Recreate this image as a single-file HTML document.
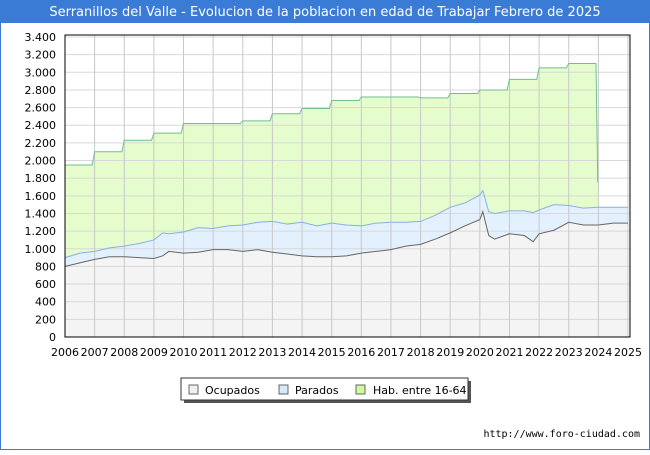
<!DOCTYPE html>
<html><head><meta charset="utf-8"><style>
body{margin:0;width:650px;height:450px;overflow:hidden;font-family:"Liberation Sans","DejaVu Sans",sans-serif;background:#fff}
</style></head><body>
<svg id="chart" width="650" height="450" xmlns="http://www.w3.org/2000/svg">
<rect x="0" y="0" width="650" height="450" fill="#fff" stroke="#3a7bd5" stroke-width="2"/>
<rect x="0" y="0" width="650" height="23" fill="#3a7bd5"/>
<text x="325" y="16" font-size="13" fill="#fff" text-anchor="middle" font-family="DejaVu Sans, sans-serif">Serranillos del Valle - Evolucion de la poblacion en edad de Trabajar Febrero de 2025</text>
<g id="plot"></g>
<g>
<rect x="184" y="381" width="287" height="22" fill="#555"/>
<rect x="181" y="378" width="287" height="22" fill="#fff" stroke="#333"/>
<rect x="189" y="385" width="9" height="9" fill="#f0f0f0" stroke="#666"/>
<text x="205" y="394" font-size="11" font-family="DejaVu Sans, sans-serif">Ocupados</text>
<rect x="279" y="385" width="9" height="9" fill="#d6e9ff" stroke="#666"/>
<text x="295" y="394" font-size="11" font-family="DejaVu Sans, sans-serif">Parados</text>
<rect x="356" y="385" width="9" height="9" fill="#ccff99" stroke="#666"/>
<text x="373" y="394" font-size="11" font-family="DejaVu Sans, sans-serif">Hab. entre 16-64</text>
</g>
<text x="640" y="437" font-size="10" text-anchor="end" font-family="DejaVu Sans Mono, monospace">http://www.foro-ciudad.com</text>
</svg>
<script>
const years=[2006,2007,2008,2009,2010,2011,2012,2013,2014,2015,2016,2017,2018,2019,2020,2021,2022,2023,2024,2025];
const yTicks=[0,200,400,600,800,1000,1200,1400,1600,1800,2000,2200,2400,2600,2800,3000,3200,3400];
const habYears=[2006,2007,2008,2009,2010,2011,2012,2013,2014,2015,2016,2017,2018,2019,2020,2021,2022,2023];
const habValues=[1950,2100,2230,2310,2420,2420,2450,2530,2590,2680,2720,2720,2710,2760,2800,2920,3050,3100];
const habEndValue=1750;
const tSeries=[2006,2006.5,2007,2007.5,2008,2008.5,2009,2009.3,2009.5,2010,2010.5,2011,2011.5,2012,2012.5,2013,2013.5,2014,2014.5,2015,2015.5,2016,2016.5,2017,2017.5,2018,2018.5,2019,2019.5,2020,2020.1,2020.3,2020.5,2021,2021.5,2021.8,2022,2022.5,2023,2023.5,2024,2024.5,2025];
const ocupados=[800,840,880,910,910,900,890,920,970,950,960,990,990,970,990,960,940,920,910,910,920,950,970,990,1030,1050,1110,1180,1260,1330,1420,1150,1110,1170,1150,1080,1170,1210,1300,1270,1270,1290,1290];
const activos=[900,950,970,1010,1030,1060,1100,1180,1170,1190,1240,1230,1260,1270,1300,1310,1280,1300,1260,1290,1270,1260,1290,1300,1300,1310,1380,1470,1520,1610,1660,1420,1400,1430,1430,1410,1440,1500,1490,1460,1470,1470,1470];
const X0=65,X1=628,Y0=337,Y1=37;
const xs=t=>X0+(t-2006)/(2025-2006)*(X1-X0);
const ys=v=>Y0-v/3400*(Y0-Y1);
const NS="http://www.w3.org/2000/svg";
const plot=document.getElementById('plot');
function mk(tag,attrs){const e=document.createElementNS(NS,tag);for(const k in attrs)e.setAttribute(k,attrs[k]);plot.appendChild(e);return e;}
const bg=mk('rect',{x:X0,y:35,width:X1+2-X0,height:Y0-35,fill:'#fff'});


let hp=[];
habYears.forEach((y,i)=>{hp.push([xs(y),ys(habValues[i])]);hp.push([xs(y+0.92),ys(habValues[i])]);});
hp.push([xs(2023.98),ys(habEndValue)]);
const habArea=mk('path',{d:'M'+xs(2006)+','+Y0+' L'+hp.map(p=>p.join(',')).join(' L')+' L'+xs(2023.98)+','+Y0+'Z',fill:'#e5fdcc'});


const actPts=tSeries.map((t,i)=>[xs(t),ys(activos[i])]);
const ocPts=tSeries.map((t,i)=>[xs(t),ys(ocupados[i])]);
const parArea=mk('path',{d:'M'+actPts.map(p=>p.join(',')).join(' L')+' L'+ocPts.slice().reverse().map(p=>p.join(',')).join(' L')+'Z',fill:'#e3f0fd'});


const ocArea=mk('path',{d:'M'+xs(2006)+','+Y0+' L'+ocPts.map(p=>p.join(',')).join(' L')+' L'+xs(2025)+','+Y0+'Z',fill:'#f4f4f4'});


yTicks.forEach(v=>{const l=mk('line',{x1:X0,x2:X1+2,y1:ys(v),y2:ys(v),stroke:'#d8d8d8','stroke-width':1});


const t=mk('text',{x:56,y:ys(v)+4,'font-size':11,'text-anchor':'end','font-family':'DejaVu Sans, sans-serif'});t.textContent=v.toLocaleString('de-DE');

});
years.forEach(y=>{const l=mk('line',{x1:xs(y),x2:xs(y),y1:35,y2:Y0,stroke:'#c8c8c8','stroke-width':1});


const t=mk('text',{x:xs(y),y:356,'font-size':11,'text-anchor':'middle','font-family':'DejaVu Sans, sans-serif'});t.textContent=y;

});
const habLine=mk('polyline',{points:hp.map(p=>p.join(',')).join(' '),fill:'none',stroke:'#6fbf8f','stroke-width':1});


const actLine=mk('polyline',{points:actPts.map(p=>p.join(',')).join(' '),fill:'none',stroke:'#8aaee8','stroke-width':1});


const ocLine=mk('polyline',{points:ocPts.map(p=>p.join(',')).join(' '),fill:'none',stroke:'#666','stroke-width':1});


const border=mk('rect',{x:X0,y:35,width:X1+2-X0,height:Y0-35,fill:'none',stroke:'#000','stroke-width':1});


</script>
</body></html>
